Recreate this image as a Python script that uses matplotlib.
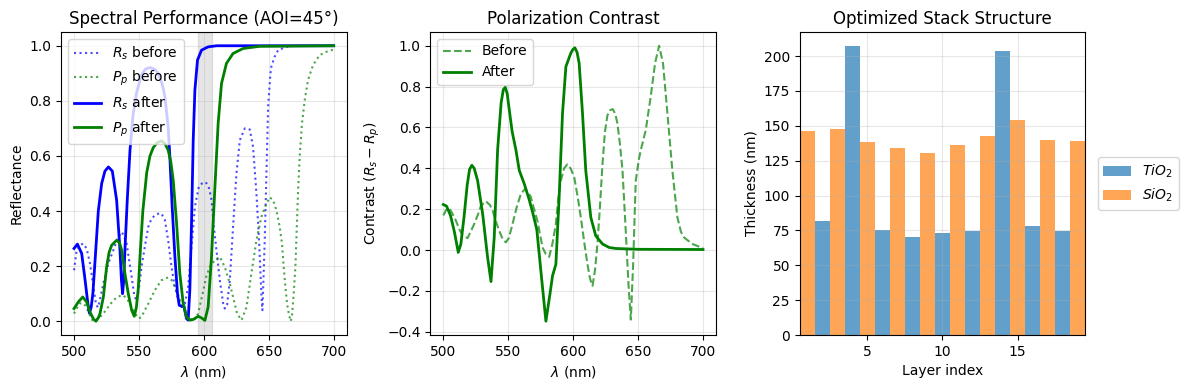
import numpy as np
import matplotlib.pyplot as plt

# --- spectral performance ---
rs_before_wl = [500, 502, 504.6, 507, 509.7, 512.3, 514.9, 517, 518.5, 520.5, 522.6, 526.4, 530.3,
                533.5, 536.7, 538.5, 540.5, 542.5, 544.4, 546.5, 548.2, 550, 552, 554.5, 557.2, 559.5,
                562.3, 566.1, 568, 570, 572.5, 575.1, 577, 579, 581, 582.8, 585.4, 587.9, 590.5, 593.1,
                596.1, 598.5, 601.5, 604.1, 605.9, 607.7, 609.7, 612.3, 614.9, 616.1, 617.9, 620, 622.5,
                625.1, 627.7, 631.5, 635.4, 637.9, 640.5, 642.5, 644.3, 645.1, 646.9, 648.2, 649.5, 651.3,
                652, 654.5, 657.2, 663.6, 670, 700]
rs_before = [0.185, 0.258, 0.276, 0.282, 0.264, 0.21, 0.125, 0.06, 0.05, 0.09, 0.137, 0.21, 0.258,
             0.3, 0.324, 0.31, 0.282, 0.22, 0.161, 0.09, 0.076, 0.12, 0.197, 0.27, 0.343, 0.37,
             0.385, 0.393, 0.385, 0.367, 0.294, 0.197, 0.14, 0.1, 0.07, 0.052, 0.064, 0.125, 0.27, 0.415,
             0.488, 0.5, 0.505, 0.482, 0.44, 0.343, 0.258, 0.149, 0.064, 0.046, 0.06, 0.149, 0.343,
             0.536, 0.657, 0.7, 0.696, 0.633, 0.464, 0.294, 0.1, 0.04, 0.294, 0.536, 0.778, 0.9,
             0.924, 0.96, 0.984, 0.996, 1.0, 1.0]

pp_before_wl = [500, 502.5, 504.6, 506.5, 508.5, 511, 513, 514.9, 517, 520, 522.6, 526, 530.3, 534,
                538, 541, 544.4, 547.5, 550, 552, 554.5, 557.2, 562.3, 567.4, 572.5, 575, 577.7, 582.8,
                587.9, 591.8, 595.6, 599.5, 602, 604.6, 608.4, 612.3, 616.1, 620, 622.5, 625.6, 629,
                632.8, 636.6, 640.5, 644.3, 648.2, 650.7, 653.3, 655.9, 658.4, 660.2, 661.5, 662.8,
                664.1, 665.6, 666.9, 667.9, 669.2, 670.5, 671.5, 672.5, 673.8, 675.6, 677.7, 680.2,
                684.1, 689.2, 694.3, 698.2, 700]
pp_before = [0.028, 0.05, 0.065, 0.066, 0.058, 0.035, 0.012, 0.0, 0.004, 0.015, 0.028, 0.05, 0.076, 0.09,
             0.094, 0.08, 0.052, 0.025, 0.01, 0.016, 0.04, 0.064, 0.113, 0.149, 0.159, 0.15, 0.125, 0.064,
             0.016, 0.0, 0.028, 0.11, 0.165, 0.197, 0.222, 0.234, 0.197, 0.137, 0.088, 0.028, 0.004,
             0.05, 0.173, 0.294, 0.379, 0.427, 0.45, 0.44, 0.403, 0.343, 0.282, 0.197, 0.125,
             0.064, 0.022, 0.0, 0.022, 0.1, 0.197, 0.33, 0.464, 0.597, 0.718, 0.803, 0.875,
             0.93, 0.966, 0.978, 0.984, 0.986]

rs_after_wl = [500, 502.6, 505.9, 508.5, 510.5, 511.8, 513.2, 514.5, 516.2, 518.7, 521.3, 523.8, 526.5,
               529.5, 532.8, 535.4, 536.5, 537.4, 538.3, 539.2, 541, 543.1, 545.5, 548.2, 552, 555,
               558.4, 562, 564.8, 568, 570, 572.5, 573.8, 575.6, 577.7, 579.7, 581, 582.8, 584.8, 586.6,
               587.9, 589.2, 590.5, 591.8, 593.1, 595.1, 598.2, 603.3, 610, 700]
rs_after = [0.264, 0.28, 0.246, 0.15, 0.07, 0.03, 0.05, 0.1, 0.22, 0.4, 0.5, 0.545, 0.56,
            0.545, 0.44, 0.258, 0.15, 0.1, 0.15, 0.258, 0.44, 0.62, 0.75, 0.83, 0.895, 0.915,
            0.921, 0.915, 0.9, 0.86, 0.815, 0.706, 0.597, 0.415, 0.234, 0.1, 0.058, 0.055, 0.052, 0.01,
            0.004, 0.113, 0.355, 0.657, 0.839, 0.948, 0.984, 0.996, 1.0, 1.0]

pp_after_wl = [500, 503.3, 506.7, 509.7, 512.8, 515, 516.9, 519, 520, 522.6, 525.1, 527, 529, 532.8,
               535, 536.7, 539.2, 541.8, 544.4, 546.4, 548, 549.5, 551, 553, 556, 558.5, 561, 564,
               567.4, 570, 572.5, 574.5, 576.4, 579, 581.5, 584.1, 586.6, 589.2, 591.5, 593.1, 595.6,
               598.2, 600.8, 603.3, 605.9, 608.4, 611, 613.6, 617.4, 622.5, 630.2, 643, 700]
pp_after = [0.046, 0.07, 0.088, 0.07, 0.028, 0.008, 0.0, 0.015, 0.028, 0.088, 0.197, 0.25, 0.276, 0.294,
            0.285, 0.258, 0.173, 0.1, 0.04, 0.018, 0.05, 0.12, 0.25, 0.4, 0.54, 0.6, 0.63, 0.648,
            0.655, 0.645, 0.621, 0.58, 0.512, 0.355, 0.173, 0.064, 0.016, 0.004, 0.006, 0.01, 0.018,
            0.012, 0.003, 0.052, 0.234, 0.476, 0.718, 0.863, 0.936, 0.972, 0.99, 0.998, 1.0]

# target band (shaded)
band = (595.6, 605.9)

# --- polarization contrast ---
c_before_wl = [500, 502, 504.1, 506.5, 509.7, 512.5, 514.9, 518.7, 521, 523.8, 527, 529, 532.8, 536,
               538, 540.5, 543, 546, 548.2, 550.5, 553.3, 556.5, 559.7, 563, 566, 567.4, 569.5, 572.6,
               576.4, 579, 581.5, 584, 586.7, 588.5, 590.5, 593, 595.6, 598, 600.8, 603.5, 605.9,
               608.5, 611, 613, 614.9, 616.8, 618.7, 620.5, 622.6, 624.5, 626.4, 628.5, 630.5, 632.5,
               634.1, 636, 638, 640.5, 642.6, 644.4, 646.2, 648.2, 650.5, 652.1, 655.9, 659.7, 663.1,
               666.2, 669.2, 672.6, 676.4, 680.3, 683, 685.4, 691.8, 700]
c_before = [0.17, 0.195, 0.207, 0.185, 0.144, 0.1, 0.07, 0.059, 0.09, 0.128, 0.18, 0.218, 0.239, 0.22,
            0.193, 0.14, 0.095, 0.05, 0.038, 0.06, 0.128, 0.21, 0.275, 0.3, 0.275, 0.26, 0.21, 0.14,
            0.013, -0.02, -0.033, 0.03, 0.128, 0.25, 0.34, 0.4, 0.42, 0.4, 0.357, 0.26, 0.16,
            0.04, -0.069, -0.14, -0.175, -0.1, 0.03, 0.2, 0.423, 0.58, 0.66, 0.685, 0.69, 0.665,
            0.62, 0.52, 0.39, 0.095, -0.167, -0.34, -0.069, 0.34, 0.44, 0.49, 0.587, 0.75, 0.915,
            1.0, 0.915, 0.669, 0.39, 0.16, 0.09, 0.062, 0.03, 0.01]

c_after_wl = [500, 502.5, 505.5, 508.5, 511.5, 513.5, 515.9, 518.4, 520.2, 522, 523.8, 526.4, 530.3,
              534.1, 536.7, 539.2, 541.8, 544.5, 546.2, 547.7, 549.2, 550.5, 553, 555.9, 558.5, 562.3,
              566, 569, 572, 575.1, 579, 582.1, 584.1, 586.7, 589.2, 591.8, 594.4, 598.2, 599.8, 601.3,
              603, 604.6, 607.2, 609.7, 613.6, 617.4, 622.6, 627.7, 632.8, 650, 700]
c_after = [0.223, 0.215, 0.17, 0.09, -0.011, 0.03, 0.16, 0.32, 0.395, 0.415, 0.4, 0.34, 0.177,
           -0.036, -0.154, 0.062, 0.49, 0.72, 0.785, 0.797, 0.765, 0.7, 0.58, 0.49, 0.39, 0.325,
           0.25, 0.18, 0.1, -0.1, -0.348, -0.216, -0.126, -0.069, 0.259, 0.669, 0.898, 0.964, 0.982, 0.99,
           0.968, 0.915, 0.669, 0.39, 0.16, 0.07, 0.03, 0.013, 0.008, 0.004, 0.003]

# --- optimized stack ---
tio2_idx = [2, 4, 6, 8, 10, 12, 14, 16, 18]
tio2_nm = [81.9, 206.9, 75.4, 70.4, 73.3, 74.7, 203.4, 78.3, 74.7]
sio2_idx = [1, 3, 5, 7, 9, 11, 13, 15, 17, 19]
sio2_nm = [145.9, 148.0, 138.7, 134.4, 130.8, 136.5, 143.0, 154.5, 140.1, 139.4]

fig, axes = plt.subplots(1, 3, figsize=(11.9, 3.9), dpi=100)
fig.subplots_adjust(left=0.0513, right=0.912, top=0.918, bottom=0.141, wspace=0.293)

ax = axes[0]
ax.plot(rs_before_wl, rs_before, 'b:', alpha=0.7, lw=1.5, label='$R_s$ before')
ax.plot(pp_before_wl, pp_before, 'g:', alpha=0.7, lw=1.5, label='$P_p$ before')
ax.plot(rs_after_wl, rs_after, 'b-', lw=2, label='$R_s$ after')
ax.plot(pp_after_wl, pp_after, 'g-', lw=2, label='$P_p$ after')
ax.axvspan(band[0], band[1], color='gray', alpha=0.2)
ax.set_xlabel(r'$\lambda$ (nm)')
ax.set_ylabel('Reflectance')
ax.set_title('Spectral Performance (AOI=45°)')
ax.legend(loc='upper left')
ax.grid(alpha=0.3)

ax = axes[1]
ax.plot(c_before_wl, c_before, 'g--', alpha=0.7, lw=1.5, label='Before')
ax.plot(c_after_wl, c_after, 'g-', lw=2, label='After')
ax.set_xlabel(r'$\lambda$ (nm)')
ax.set_ylabel('Contrast ($R_s - R_p$)')
ax.set_title('Polarization Contrast')
ax.legend(loc='upper left')
ax.grid(alpha=0.3)

ax = axes[2]
ax.bar(tio2_idx, tio2_nm, width=1.0, color='C0', alpha=0.7, label='$TiO_2$')
ax.bar(sio2_idx, sio2_nm, width=1.0, color='C1', alpha=0.7, label='$SiO_2$')
ax.set_xlim(0.5, 19.5)
ax.set_xlabel('Layer index')
ax.set_ylabel('Thickness (nm)')
ax.set_title('Optimized Stack Structure')
ax.legend(loc='center left', bbox_to_anchor=(1.02, 0.5))
ax.grid(alpha=0.3)

plt.savefig('out.png')
